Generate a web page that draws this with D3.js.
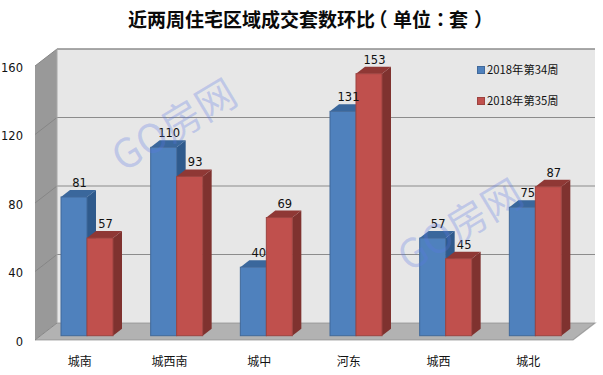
<!DOCTYPE html>
<html><head><meta charset="utf-8">
<script src="https://cdn.jsdelivr.net/npm/d3@7/dist/d3.min.js"></script>
<style>html,body{margin:0;padding:0;background:#fff}svg{display:block}</style>
</head><body><svg id="c" width="603" height="375"></svg>
<script>
const categories=["城南","城西南","城中","河东","城西","城北"];
const week34=[81,110,40,131,57,75];
const week35=[57,93,69,153,45,87];
const seriesNames=["2018年第34周","2018年第35周"];
const yTicks=[0,40,80,120,160];
const titleParts=["近两周住宅区域成交套数环比","（","单位","：","套","）"];
const cjk='"Noto Sans CJK SC","Noto Sans",sans-serif';
const num='"DejaVu Sans",sans-serif';
const svg=d3.select("#c");
const dx=22,dy=17,barDx=9,barDy=7;
const xL=35,xR=573,yB=340,yT=66;
const y=d3.scaleLinear().domain([0,160]).range([yB,yT]);
const x=d3.scaleBand().domain(categories).range([xL,xR]);
const path=p=>"M"+p.map(q=>q.join(",")).join("L")+"Z";
// back wall
svg.append("path").attr("d",path([[xL+dx,y(160)-dy],[xR+dx,y(160)-dy],[xR+dx,yB-dy],[xL+dx,yB-dy]])).attr("fill","#e7e7e7");
// left wall
svg.append("path").attr("d",path([[xL,y(160)],[xL+dx,y(160)-dy],[xL+dx,yB-dy],[xL,yB]])).attr("fill","#999999");
// floor
svg.append("path").attr("d",path([[xL,yB],[xL+dx,yB-dy],[xR+dx,yB-dy],[xR,yB]])).attr("fill","#b2b2b2");
// gridlines
yTicks.forEach(t=>{
  const g=y(t);
  svg.append("path").attr("d",`M${xL+dx},${g-dy}L${xR+dx},${g-dy}`+(t===0?`L${xR},${g}L${xL},${g}`:""))
    .attr("fill","none").attr("stroke","#8c8c8c").attr("stroke-width",t===160?1.4:1.2).attr("stroke-opacity",t===0?.7:1);
  svg.append("line").attr("x1",xL).attr("y1",g).attr("x2",xL+dx).attr("y2",g-dy).attr("stroke","#868686").attr("stroke-width",1);
});
svg.append("line").attr("x1",xL+dx).attr("x2",xL+dx).attr("y1",y(160)-dy).attr("y2",yB-dy).attr("stroke","#a8a8a8").attr("stroke-width",1);
// tick labels
svg.selectAll(".yt").data(yTicks).join("text").attr("x",23).attr("y",d=>y(d)+5.5)
  .attr("text-anchor","end").attr("font-family",num).attr("font-size",11.5).attr("fill","#111").text(d=>d);
// bars
const barW=26,base=335.7,barInset=26;
const h=d3.scaleLinear().domain([0,160]).range([0,yB-yT]);
const styles=[
 {front:"#4f81bd",top:"#3a679c",side:"#2f5a8c",edge:"#41699a"},
 {front:"#c0504d",top:"#8f3835",side:"#7f322f",edge:"#9c4340"}];
categories.forEach((c,i)=>{
  [week34[i],week35[i]].forEach((v,s)=>{
    const st=styles[s];
    const X0=x(c)+barInset+s*barW,X1=X0+barW,Y0=base-h(v),Y1=base;
    const g=svg.append("g");
    g.append("path").attr("d",path([[X1,Y0],[X1+barDx,Y0-barDy],[X1+barDx,Y1-barDy],[X1,Y1]])).attr("fill",st.side);
    g.append("path").attr("d",path([[X0,Y0],[X0+barDx,Y0-barDy],[X1+barDx,Y0-barDy],[X1,Y0]])).attr("fill",st.top);
    g.append("rect").attr("x",X0).attr("y",Y0).attr("width",barW).attr("height",Y1-Y0).attr("fill",st.front).attr("stroke",st.edge).attr("stroke-width",1);
  });
});
// value labels drawn above all bars
categories.forEach((c,i)=>{
  [week34[i],week35[i]].forEach((v,s)=>{
    svg.append("text").attr("x",x(c)+barInset+s*barW+barW/2+5.5).attr("y",base-h(v)-barDy-3).attr("text-anchor","middle")
      .attr("font-family",num).attr("font-size",11.5).attr("fill","#111").text(v);
  });
});
// category labels
svg.selectAll(".xl").data(categories).join("text").attr("x",d=>x(d)+x.bandwidth()/2).attr("y",366)
  .attr("text-anchor","middle").attr("font-family",cjk).attr("font-size",12).attr("fill","#111").text(d=>d);
// legend
seriesNames.forEach((n,i)=>{
  const ly=70+i*31;
  svg.append("rect").attr("x",477.5).attr("y",ly-3.5).attr("width",7).attr("height",7).attr("fill",styles[i].front).attr("stroke",styles[i].edge);
  svg.append("text").attr("x",487).attr("y",ly+4).attr("font-family",cjk).attr("font-size",11.3).attr("fill","#111").text(n);
});
// title
const titleX=[128,378,393,431,449,474];
const title=svg.append("text").attr("y",27).attr("font-family",cjk).attr("font-weight",700).attr("font-size",19).attr("fill","#0a0a0a");
titleParts.forEach((t,i)=>{
  title.append("tspan").attr("x",titleX[i]).attr("font-family",t==="："?'"Noto Sans CJK TC",sans-serif':cjk)
    .style("font-feature-settings",t==="（"?'"halt"':"normal").text(t);
});
// watermarks
[[176,128],[462,228]].forEach(([a,b])=>{
  svg.append("text").attr("transform",`translate(${a},${b}) rotate(-31)`).attr("text-anchor","middle").attr("dominant-baseline","middle")
   .attr("font-family",cjk).attr("font-weight",400).attr("font-size",40).attr("fill","#5a78e6").attr("fill-opacity",.28).text("GO房网");
});
</script></body></html>
